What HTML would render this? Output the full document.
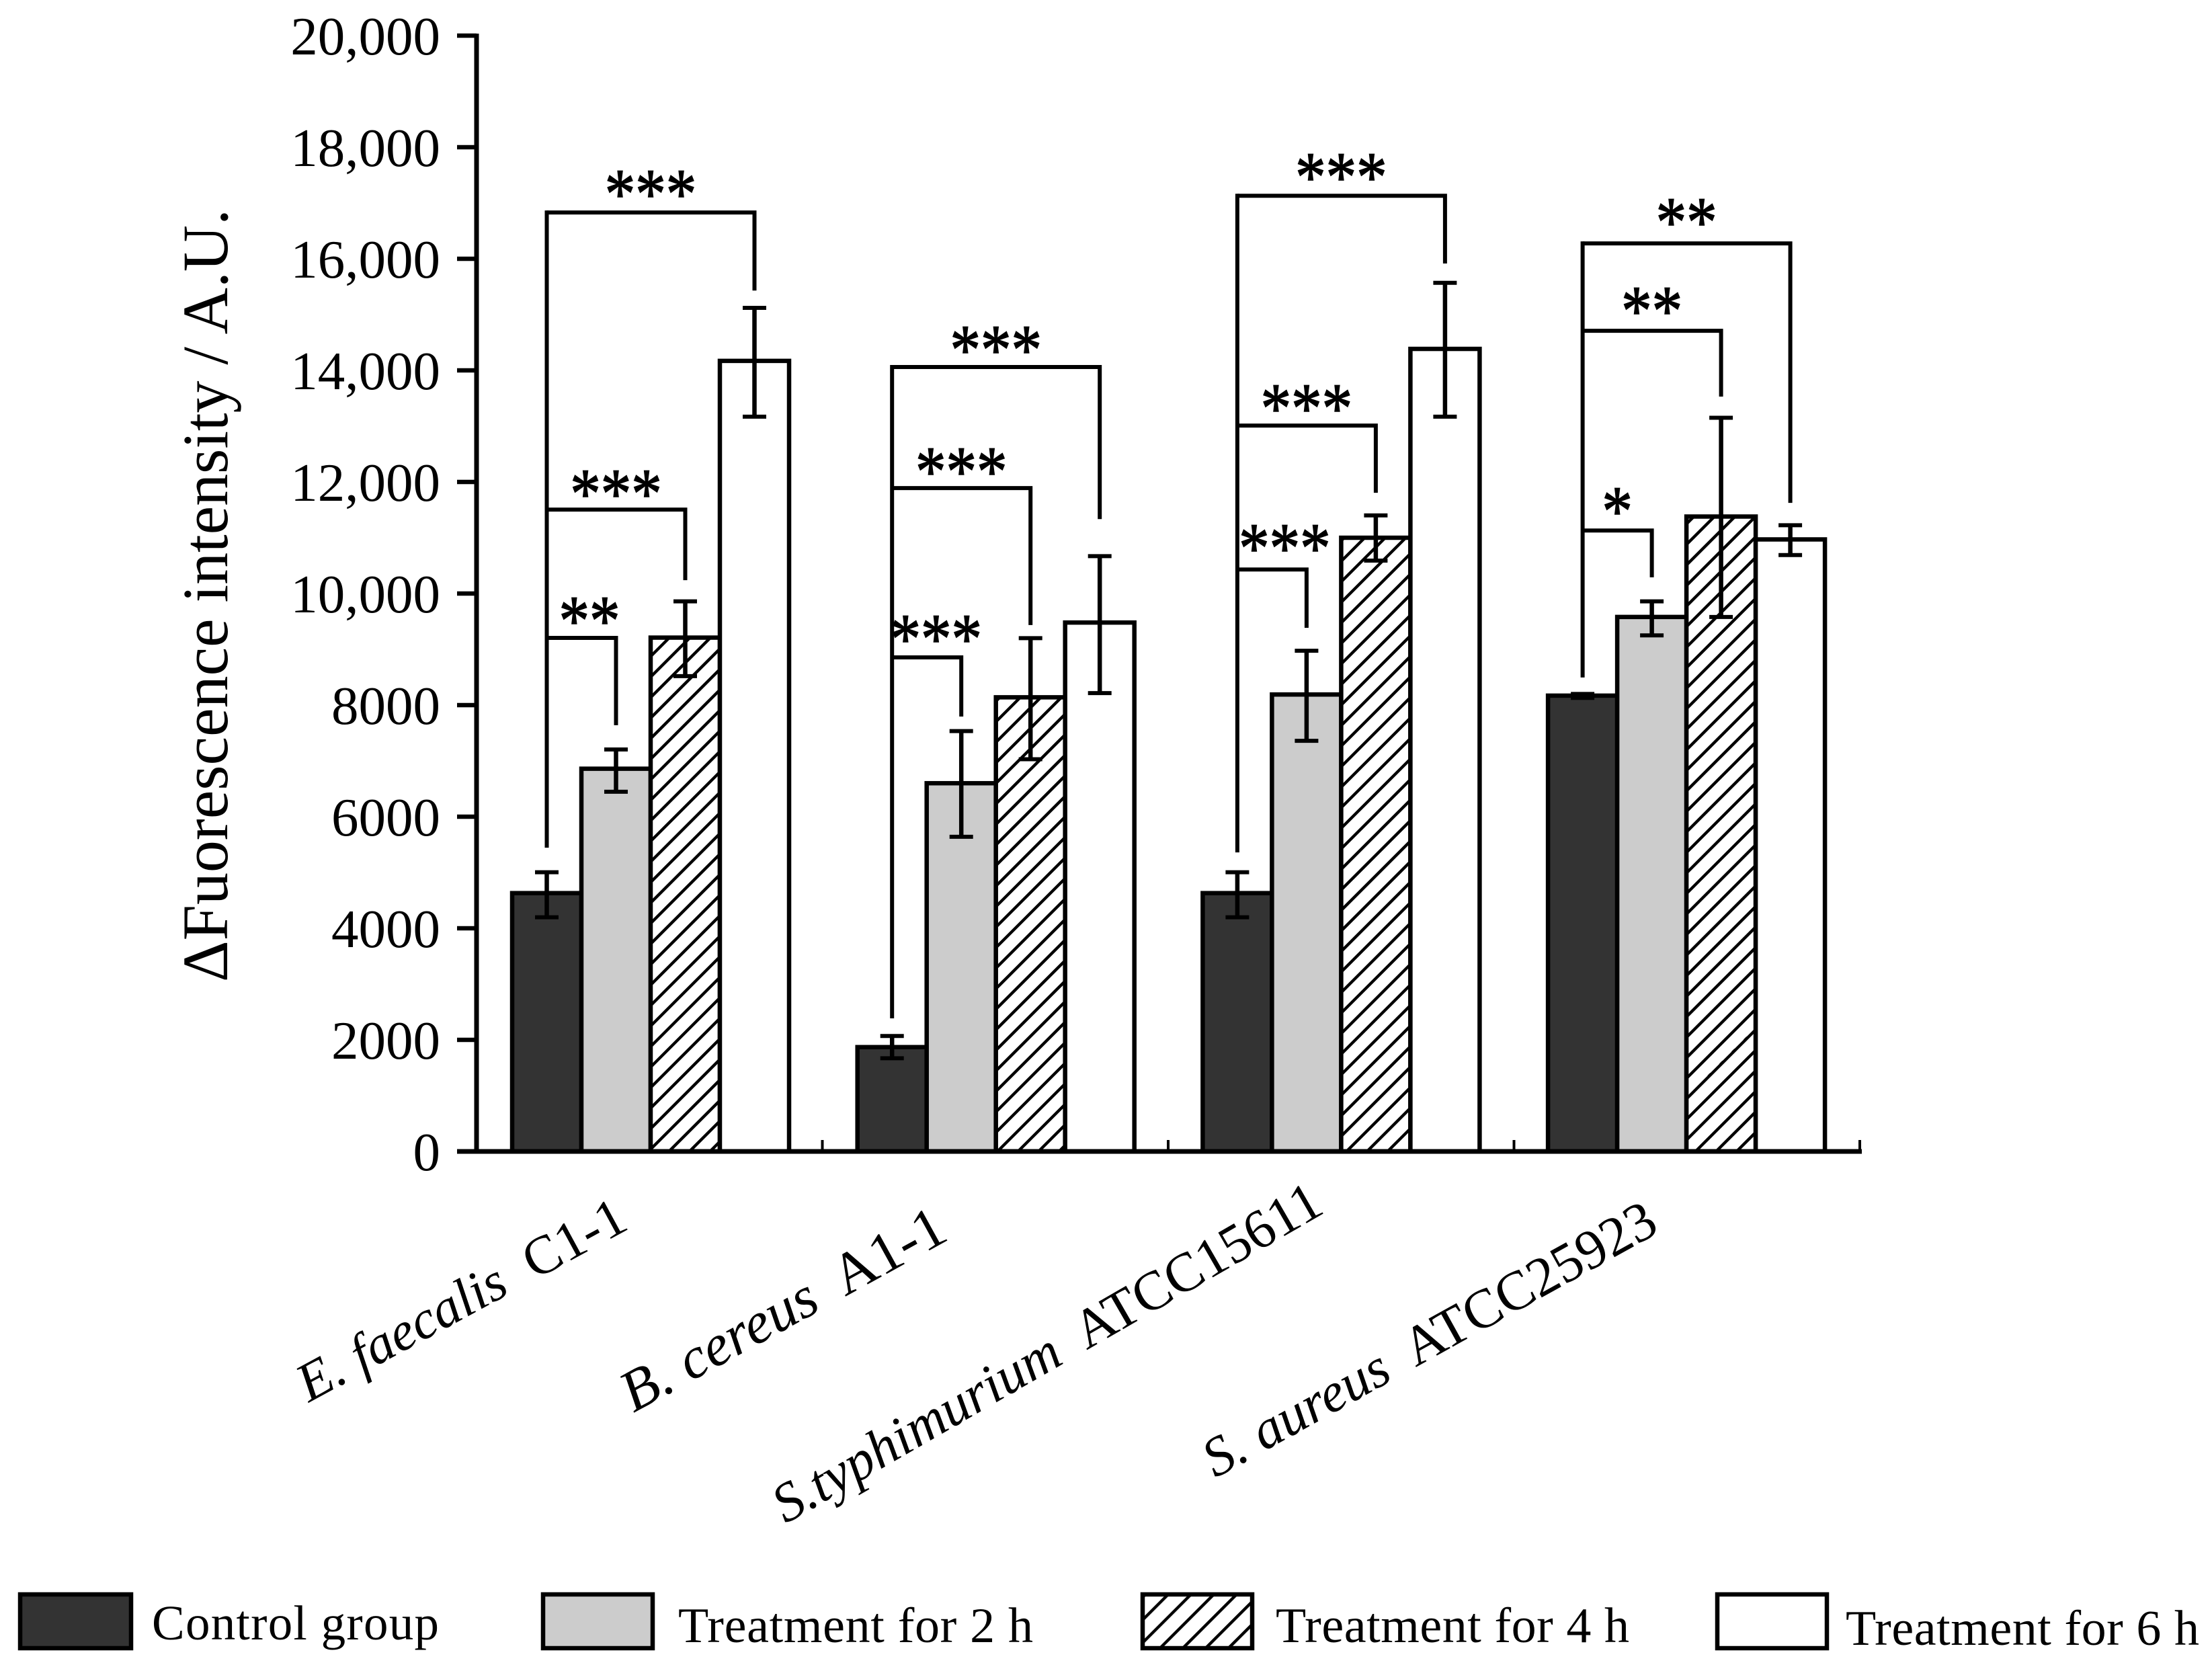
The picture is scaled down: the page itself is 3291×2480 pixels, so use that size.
<!DOCTYPE html>
<html lang="en">
<head>
<meta charset="utf-8">
<title>Fluorescence intensity bar chart</title>
<style>
  html, body { margin: 0; padding: 0; background: #fff; }
  svg { display: block; }
  text { font-family: "Liberation Serif", "DejaVu Serif", serif; fill: #000; }
</style>
</head>
<body>
<svg id="chart" xmlns="http://www.w3.org/2000/svg" width="3291" height="2480" viewBox="0 0 3291 2480">
  <defs>
    <pattern id="hatch" width="21.6" height="21.6" patternUnits="userSpaceOnUse" patternTransform="translate(17 0) rotate(45)">
      <rect width="21.6" height="21.6" fill="#fff"></rect>
      <rect x="0" y="0" width="4.4" height="21.6" fill="#000"></rect>
    </pattern>
    <pattern id="hatch-legend" width="24" height="24" patternUnits="userSpaceOnUse" patternTransform="rotate(45)">
      <rect width="24" height="24" fill="#fff"></rect>
      <rect x="0" y="0" width="4.4" height="24" fill="#000"></rect>
    </pattern>
  </defs>
  <rect width="3291" height="2480" fill="#fff"></rect>
  <g id="brackets"></g>
  <g id="bars"></g>
  <g id="errors"></g>
  <g id="axes"></g>
  <text transform="translate(338 1461) rotate(-90)" font-size="96" textLength="1150" lengthAdjust="spacing">ΔFuorescence intensity / A.U.</text>
  <g id="category-labels">
    <text text-anchor="end" font-size="81" transform="translate(938 1827) rotate(-28.5)" xml:space="preserve"><tspan font-style="italic">E. faecalis</tspan>  C1-1</text>
    <text text-anchor="end" font-size="87" transform="translate(1414 1843) rotate(-28.8)" xml:space="preserve"><tspan font-style="italic">B. cereus</tspan>  A1-1</text>
    <text text-anchor="end" font-size="82" transform="translate(1973 1803) rotate(-30)" xml:space="preserve"><tspan font-style="italic">S.typhimurium</tspan>  ATCC15611</text>
    <text text-anchor="end" font-size="82.5" transform="translate(2471 1832) rotate(-29)" xml:space="preserve"><tspan font-style="italic">S. aureus</tspan>  ATCC25923</text>
  </g>
  <g>
    <g>
      <rect x="30" y="2372" width="165" height="80" fill="#333" stroke="#000" stroke-width="6.5"></rect>
      <text x="226" y="2439" font-size="73" textLength="427" lengthAdjust="spacing">Control group</text>
    </g>
    <g>
      <rect x="808" y="2372" width="163" height="80" fill="#ccc" stroke="#000" stroke-width="6.5"></rect>
      <text x="1009" y="2443" font-size="74" textLength="528" lengthAdjust="spacing">Treatment for 2 h</text>
    </g>
    <g>
      <rect x="1700" y="2372" width="163" height="80" fill="url(#hatch-legend)" stroke="#000" stroke-width="6.5"></rect>
      <text x="1898" y="2443" font-size="74" textLength="526" lengthAdjust="spacing">Treatment for 4 h</text>
    </g>
    <g>
      <rect x="2555" y="2372" width="163" height="80" fill="#fff" stroke="#000" stroke-width="6.5"></rect>
      <text x="2746" y="2447" font-size="74" textLength="526" lengthAdjust="spacing">Treatment for 6 h</text>
    </g>
  </g>
</svg>
<script>
// ---- chart data ----
const categories = ['E. faecalis C1-1', 'B. cereus A1-1', 'S.typhimurium ATCC15611', 'S. aureus ATCC25923'];
const seriesNames = ['control', '2h', '4h', '6h'];
const controlValues = [4630, 1870, 4630, 8170];
const treat2hValues = [6860, 6600, 8190, 9580];
const treat4hValues = [9210, 8140, 11000, 11380];
const treat6hValues = [14170, 9480, 14385, 10970];
const controlUpper = [5005, 2070, 5005, 8200];
const controlLower = [4197, 1670, 4197, 8130];
const treat2hUpper = [7205, 7535, 8975, 9860];
const treat2hLower = [6447, 5640, 7360, 9250];
const treat4hUpper = [9860, 9200, 11400, 13150];
const treat4hLower = [8520, 7030, 10590, 9580];
const treat6hUpper = [15120, 10670, 15570, 11225];
const treat6hLower = [13170, 8215, 13170, 10690];
const yTickValues = [0, 2000, 4000, 6000, 8000, 10000, 12000, 14000, 16000, 18000, 20000];
const yTickLabels = ['0', '2000', '4000', '6000', '8000', '10,000', '12,000', '14,000', '16,000', '18,000', '20,000'];
// significance brackets: group index, target series index, bracket level, drop end, stars
const sigGroups = [0, 0, 0, 1, 1, 1, 2, 2, 2, 3, 3, 3];
const sigTargets = [3, 2, 1, 3, 2, 1, 3, 2, 1, 3, 2, 1];
const sigLevels = [16830, 11505, 9205, 14060, 11890, 8855, 17130, 13010, 10430, 16275, 14710, 11130];
const sigEnds = [15430, 10240, 7640, 11335, 9435, 7795, 15915, 11805, 9385, 11625, 13530, 10290];
const sigLabels = ['***', '***', '**', '***', '***', '***', '***', '***', '***', '**', '**', '*'];
const sigStemBottoms = [5445, 2385, 5360, 8495];

// ---- layout and scales ----
const NS = 'http://www.w3.org/2000/svg';
const PLOT = { left: 709, right: 2767, top: 53, bottom: 1713, yMax: 20000 };
const BAR_W = 103, GROUP_PAD = 53, GROUP_STEP = 513.7;
const bandW = (PLOT.right - PLOT.left) / categories.length;
const LABEL_NUDGE = { 2: 12, 5: 14, 8: 19 };
const STAR_BASE_DROP = 43.4;
const STAR_RISE = { 1: 32, 2: 34, 3: 34, 4: 33, 7: 34, 8: 40, 9: 40, 10: 38, 11: 37 };
const fills = ['#333', '#ccc', 'url(#hatch)', '#fff'];
const seriesValues = [controlValues, treat2hValues, treat4hValues, treat6hValues];
const seriesUpper = [controlUpper, treat2hUpper, treat4hUpper, treat6hUpper];
const seriesLower = [controlLower, treat2hLower, treat4hLower, treat6hLower];

function yScale(v) { return PLOT.bottom - (v / PLOT.yMax) * (PLOT.bottom - PLOT.top); }
function bandX(g) { return PLOT.left + g * bandW; }
function barLeft(g, s) { return PLOT.left + GROUP_PAD + g * GROUP_STEP + s * BAR_W; }
function barCenter(g, s) { return barLeft(g, s) + BAR_W / 2; }

function make(tag, attrs, parent) {
  const n = document.createElementNS(NS, tag);
  for (const k in attrs) n.setAttribute(k, attrs[k]);
  parent.appendChild(n);
  return n;
}
function line(x1, y1, x2, y2, w, parent) {
  return make('line', { x1: x1, y1: y1, x2: x2, y2: y2, stroke: '#000', 'stroke-width': w }, parent);
}

const gBrackets = document.getElementById('brackets');
const gBars = document.getElementById('bars');
const gErrors = document.getElementById('errors');
const gAxes = document.getElementById('axes');

// ---- bars ----
categories.forEach(function (cat, g) {
  seriesValues.forEach(function (vals, s) {
    const top = yScale(vals[g]);
    const r = make('rect', { x: barLeft(g, s), y: top, width: BAR_W, height: PLOT.bottom - top, fill: fills[s], stroke: '#000', 'stroke-width': 6.5 }, gBars);
    
    

    const cx = barCenter(g, s), yU = yScale(seriesUpper[s][g]), yL = yScale(seriesLower[s][g]);
    const e = make('g', {}, gErrors);
    
    
    line(cx, yU, cx, yL, 6.5, e);
    line(cx - 17.5, yU, cx + 17.5, yU, 6, e);
    line(cx - 17.5, yL, cx + 17.5, yL, 6, e);
  });
});

// ---- significance brackets ----
sigStemBottoms.forEach(function (v, g) {
  const x = barCenter(g, 0);
  const topLevel = Math.max.apply(null, sigLevels.filter(function (_, i) { return sigGroups[i] === g; }));
  const stem = line(x, yScale(topLevel) - 3, x, yScale(v), 6, gBrackets);
  
  
});
sigLevels.forEach(function (lvl, i) {
  const g = sigGroups[i], x0 = barCenter(g, 0), x1 = barCenter(g, sigTargets[i]), y = yScale(lvl);
  const b = make('path', { d: 'M' + x0 + ' ' + y + 'H' + x1 + 'V' + yScale(sigEnds[i]), fill: 'none', stroke: '#000', 'stroke-width': 6, 'stroke-linejoin': 'miter' }, gBrackets);
  
  
  const rise = STAR_RISE[i] || 36;
  const tx = (x0 + x1) / 2 + (LABEL_NUDGE[i] || 0);
  const ty = y - rise + STAR_BASE_DROP;
  const t = make('text', { transform: 'translate(' + tx + ' ' + ty + ') scale(1 1.15)', 'text-anchor': 'middle', 'font-size': 91, stroke: '#000', 'stroke-width': 1.4 }, gBrackets);
  
  
  t.textContent = sigLabels[i];
});

// ---- axes ----
const yAxis = line(PLOT.left, PLOT.top - 3, PLOT.left, PLOT.bottom, 7, gAxes);


const xAxis = line(PLOT.left - 29, PLOT.bottom, PLOT.right + 3, PLOT.bottom, 7, gAxes);



yTickValues.forEach(function (v, i) {
  const y = yScale(v);
  const tick = line(PLOT.left - 29, y, PLOT.left, y, 6.5, gAxes);
  
  
  const label = make('text', { x: 655, y: y + 28, 'text-anchor': 'end', 'font-size': 81 }, gAxes);
  
  
  label.textContent = yTickLabels[i];
});
for (let i = 1; i <= categories.length; i++) {
  const x = bandX(i);
  const tick = line(x, PLOT.bottom - 17, x, PLOT.bottom, 4, gAxes);
  
  
}
</script>
</body>
</html>
